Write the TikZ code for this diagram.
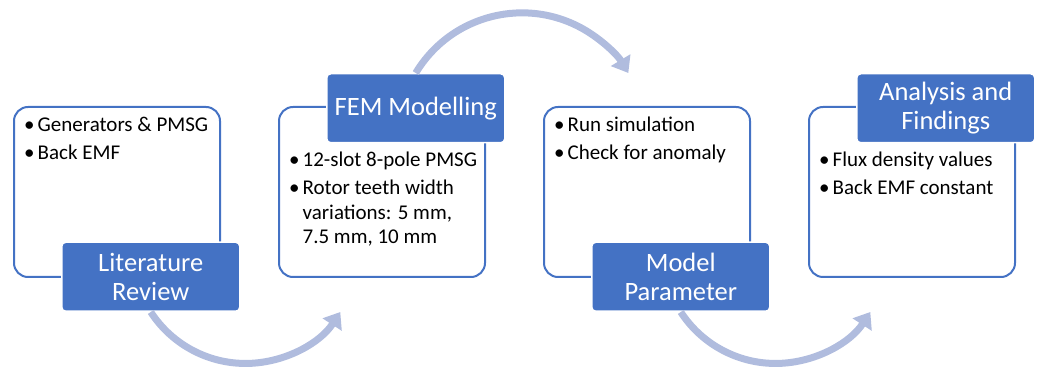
\documentclass[tikz,border=0pt]{standalone}
\usepackage{fontspec}
\setmainfont{Carlito}
\usetikzlibrary{positioning,arrows.meta}
\definecolor{stepblue}{RGB}{68,114,196}
\definecolor{flowblue}{RGB}{176,188,222}

\begin{document}
\begin{tikzpicture}[x=1pt, y=1pt,
    frame/.style={draw=stepblue, line width=2pt, rounded corners=14pt, minimum width=206pt, minimum height=170pt},
    head/.style={fill=stepblue, draw=white, line width=1.5pt, rounded corners=4pt, minimum width=178pt, minimum height=69pt, text=white, align=center, font=\fontsize{26.5}{28.5}\selectfont},
    items/.style={inner sep=0pt, anchor=base west, font=\fontsize{21}{24.5}\selectfont},
    flow/.style={draw=flowblue, line width=7pt, -{Triangle[width=22pt,length=15pt]}}]
  \useasboundingbox (0,0) rectangle (1038,369);

  % outline boxes
  \node[frame] (litbox) at (117,177) {};
  \node[frame, right=57pt of litbox] (fembox) {};
  \node[frame, right=57pt of fembox] (modelbox) {};
  \node[frame, right=57pt of modelbox] (resbox) {};

  % headings
  \node[head, anchor=south west] (lit) at ([xshift=48pt, yshift=-34pt]litbox.south west) {Literature\\Review};
  \node[head, anchor=north west] (fem) at ([xshift=48pt, yshift=33pt]fembox.north west) {FEM Modelling};
  \node[head, anchor=south west] (model) at ([xshift=48pt, yshift=-34pt]modelbox.south west) {Model\\Parameter};
  \node[head, anchor=north west] (res) at ([xshift=48pt, yshift=33pt]resbox.north west) {Analysis and\\Findings};

  % bullet points
  \node[items] (litlist) at ([xshift=11pt, yshift=-26pt]litbox.north west) {%
    \begin{tabular}[t]{@{}l@{\hspace{3pt}}l@{}}
      \textbullet & Generators \& PMSG\\[3.5pt]
      \textbullet & Back EMF
    \end{tabular}};
  \node[items] (femlist) at ([xshift=11pt, yshift=-61pt]fembox.north west) {%
    \begin{tabular}[t]{@{}l@{\hspace{3pt}}l@{}}
      \textbullet & 12-slot 8-pole PMSG\\[3.5pt]
      \textbullet & Rotor teeth width\\
                  & variations: 5 mm,\\
                  & 7.5 mm, 10 mm
    \end{tabular}};
  \node[items] (modellist) at ([xshift=11pt, yshift=-26pt]modelbox.north west) {%
    \begin{tabular}[t]{@{}l@{\hspace{3pt}}l@{}}
      \textbullet & Run simulation\\[3.5pt]
      \textbullet & Check for anomaly
    \end{tabular}};
  \node[items] (reslist) at ([xshift=11pt, yshift=-61pt]resbox.north west) {%
    \begin{tabular}[t]{@{}l@{\hspace{3pt}}l@{}}
      \textbullet & Flux density values\\[3.5pt]
      \textbullet & Back EMF constant
    \end{tabular}};

  % curved arrows between the steps
  \draw[flow] (lit.south) arc[start angle=213, end angle=327, radius=113];
  \draw[flow] (fem.north) arc[start angle=149, end angle=31, radius=124];
  \draw[flow] (model.south) arc[start angle=213, end angle=327, radius=113];
\end{tikzpicture}
\end{document}
